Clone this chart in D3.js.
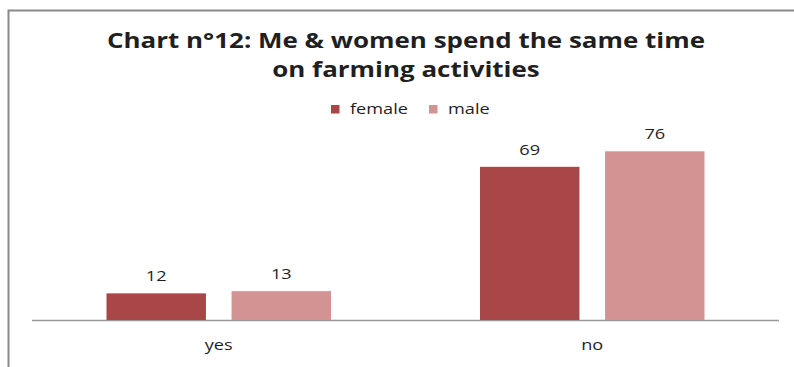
<!DOCTYPE html>
<html>
<head>
<meta charset="utf-8">
<script src="https://cdn.jsdelivr.net/npm/d3@7/dist/d3.min.js"></script>
<style>
  html, body { margin: 0; padding: 0; background: #fff; }
  svg { display: block; }
  text { font-family: "Open Sans", "DejaVu Sans", sans-serif; fill: #1f1f1f; }
</style>
</head>
<body>
<svg id="chart" width="794" height="367"></svg>
<script>
// ---- data ----
const titleLines = ["Chart n°12: Me & women spend the same time", "on farming activities"];
const categories = ["yes", "no"];
const seriesNames = ["female", "male"];
const femaleValues = [12, 69];
const maleValues = [13, 76];
const seriesColors = ["#A94748", "#D39393"];

// ---- layout ----
const W = 794, H = 367;
const svg = d3.select("#chart");
const plot = { left: 32, right: 779, bottom: 320 };

const x0 = d3.scaleBand().domain(categories).range([plot.left, plot.right]).padding(0);
const groupPad = 74.5;
const x1 = d3.scaleBand().domain(seriesNames)
  .range([groupPad, x0.bandwidth() - groupPad])
  .paddingInner(0.2048).paddingOuter(0);
const y = d3.scaleLinear().domain([0, 80]).range([plot.bottom, plot.bottom - 177.6]);
const color = d3.scaleOrdinal().domain(seriesNames).range(seriesColors);

const valuesBySeries = { female: femaleValues, male: maleValues };
const rows = categories.map((c, i) => ({
  category: c,
  items: seriesNames.map(s => ({ series: s, value: valuesBySeries[s][i] }))
}));

// frame border
svg.append("path")
  .attr("d", `M8.5,${H} L8.5,10.5 L${W},10.5`)
  .attr("fill", "none").attr("stroke", "#8a8a8a").attr("stroke-width", 2);

// helper: horizontal stretch for text to mimic original proportions
function stretch(sel, factor) {
  sel.each(function () {
    const len = this.getComputedTextLength();
    d3.select(this).attr("textLength", len * factor).attr("lengthAdjust", "spacingAndGlyphs");
  });
}

// title
const title = svg.append("g");
const tl = title.selectAll("text").data(titleLines).join("text")
  .attr("x", 406)
  .attr("y", (d, i) => 48 + i * 28.5)
  .attr("text-anchor", "middle")
  .attr("font-weight", "bold")
  .attr("font-size", 21)
  .text(d => d);
const line1Len = tl.nodes()[0].getComputedTextLength();
stretch(tl, 598 / line1Len);

// measure stretch for body text
const probe = svg.append("text").attr("font-size", 15).text("female");
const bodyStretch = 58 / probe.node().getComputedTextLength();
probe.remove();

// legend
const legend = svg.append("g");
const li = legend.selectAll("g").data(seriesNames).join("g")
  .attr("transform", (d, i) => `translate(${331 + i * 98},0)`);
li.append("rect").attr("x", 0).attr("y", 105).attr("width", 8.5).attr("height", 8.5)
  .attr("fill", d => color(d));
const lt = li.append("text").attr("x", 19).attr("y", 114).attr("font-size", 15).text(d => d);
stretch(lt, bodyStretch);

// axis line
svg.append("line")
  .attr("x1", plot.left).attr("x2", plot.right)
  .attr("y1", plot.bottom + 0.5).attr("y2", plot.bottom + 0.5)
  .attr("stroke", "#999").attr("stroke-width", 1.5);

// bars
const groups = svg.append("g").selectAll("g").data(rows).join("g")
  .attr("transform", d => `translate(${x0(d.category)},0)`);
groups.selectAll("rect").data(d => d.items).join("rect")
  .attr("x", d => x1(d.series))
  .attr("width", x1.bandwidth())
  .attr("y", d => y(d.value))
  .attr("height", d => y(0) - y(d.value))
  .attr("fill", d => color(d.series));

// value labels
const vl = groups.selectAll("text").data(d => d.items).join("text")
  .attr("x", d => x1(d.series) + x1.bandwidth() / 2)
  .attr("y", d => y(d.value) - 12)
  .attr("text-anchor", "middle")
  .attr("font-size", 15)
  .text(d => d.value);
stretch(vl, bodyStretch);

// category labels
const cl = svg.append("g").selectAll("text").data(categories).join("text")
  .attr("x", d => x0(d) + x0.bandwidth() / 2)
  .attr("y", 350)
  .attr("text-anchor", "middle")
  .attr("font-size", 15)
  .text(d => d);
stretch(cl, bodyStretch);
</script>
</body>
</html>
